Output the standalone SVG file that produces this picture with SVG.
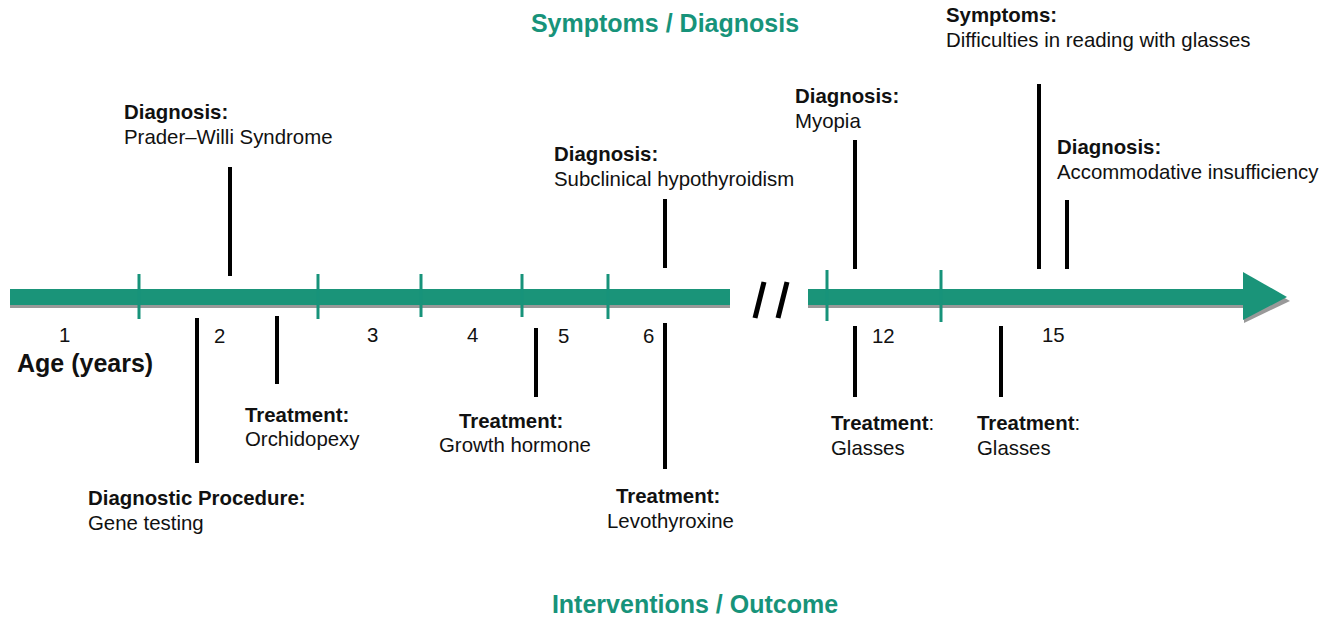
<svg xmlns="http://www.w3.org/2000/svg" width="1331" height="620" viewBox="0 0 1331 620">
<style>
.t{font-family:"Liberation Sans",Arial,sans-serif;font-size:20.4px;fill:#111}
.b{font-weight:bold}
.h{font-family:"Liberation Sans",Arial,sans-serif;font-size:25px;font-weight:bold;fill:#17937a}
.n{font-family:"Liberation Sans",Arial,sans-serif;font-size:20.4px;fill:#111}
.tick{stroke:#17937a;stroke-width:3}
.stem{stroke:#000;stroke-width:4}
</style>
<rect width="1331" height="620" fill="#fff"/>
<g id="timeline">
<rect x="10" y="292" width="720" height="16" fill="#999"/>
<rect x="808" y="292" width="440" height="16" fill="#999"/>
<polygon points="1244,275 1290,301 1244,323" fill="#999"/>
<rect x="10" y="289" width="720" height="16" fill="#1a9479"/>
<rect x="808" y="289" width="440" height="16" fill="#1a9479"/>
<polygon points="1243,272 1287,297 1243,320" fill="#1a9479"/>
<line class="tick" x1="139" y1="274" x2="139" y2="319"/>
<line class="tick" x1="318" y1="274" x2="318" y2="319"/>
<line class="tick" x1="421" y1="274" x2="421" y2="317"/>
<line class="tick" x1="522" y1="274" x2="522" y2="317"/>
<line class="tick" x1="608" y1="274" x2="608" y2="319"/>
<line class="tick" x1="827" y1="270" x2="827" y2="321"/>
<line class="tick" x1="941" y1="270" x2="941" y2="322"/>
<line x1="764" y1="282" x2="755" y2="318" stroke="#000" stroke-width="5"/>
<line x1="787" y1="282" x2="778" y2="318" stroke="#000" stroke-width="5"/>
</g>
<g id="labels-axis">
<text class="n" x="59" y="342">1</text>
<text class="n" x="214" y="343">2</text>
<text class="n" x="367" y="342">3</text>
<text class="n" x="467" y="342">4</text>
<text class="n" x="558" y="343">5</text>
<text class="n" x="643" y="343">6</text>
<text class="n" x="872" y="343">12</text>
<text class="n" x="1042" y="342">15</text>
<text class="t b" x="17" y="372" style="font-size:25px">Age (years)</text>
</g>
<g id="headers">
<text class="h" x="665" y="32" text-anchor="middle">Symptoms / Diagnosis</text>
<text class="h" x="695" y="613" text-anchor="middle">Interventions / Outcome</text>
</g>
<g id="connectors">
<line class="stem" x1="230" y1="167" x2="230" y2="276"/>
<line class="stem" x1="197" y1="318" x2="197" y2="463"/>
<line class="stem" x1="277" y1="316" x2="277" y2="384"/>
<line class="stem" x1="536" y1="328" x2="536" y2="397"/>
<line class="stem" x1="665" y1="199" x2="665" y2="268"/>
<line class="stem" x1="665" y1="323" x2="665" y2="469"/>
<line class="stem" x1="855" y1="140" x2="855" y2="269"/>
<line class="stem" x1="855" y1="326" x2="855" y2="397"/>
<line class="stem" x1="1039" y1="84" x2="1039" y2="269"/>
<line class="stem" x1="1067" y1="200" x2="1067" y2="269"/>
<line class="stem" x1="1001" y1="326" x2="1001" y2="397"/>
</g>
<g id="dx-pws">
<text class="t b" x="124" y="119">Diagnosis:</text>
<text class="t" x="124" y="144">Prader–Willi Syndrome</text>
</g>
<g id="dx-hypo">
<text class="t b" x="554" y="161">Diagnosis:</text>
<text class="t" x="554" y="186">Subclinical hypothyroidism</text>
</g>
<g id="dx-myopia">
<text class="t b" x="795" y="103">Diagnosis:</text>
<text class="t" x="795" y="128">Myopia</text>
</g>
<g id="sx-reading">
<text class="t b" x="946" y="22">Symptoms:</text>
<text class="t" x="946" y="47">Difficulties in reading with glasses</text>
</g>
<g id="dx-accom">
<text class="t b" x="1057" y="154">Diagnosis:</text>
<text class="t" x="1057" y="179">Accommodative insufficiency</text>
</g>
<g id="tx-orchid">
<text class="t b" x="245" y="422">Treatment:</text>
<text class="t" x="245" y="446">Orchidopexy</text>
</g>
<g id="proc-gene">
<text class="t b" x="88" y="505">Diagnostic Procedure:</text>
<text class="t" x="88" y="530">Gene testing</text>
</g>
<g id="tx-gh">
<text class="t b" x="459" y="428">Treatment:</text>
<text class="t" x="439" y="452">Growth hormone</text>
</g>
<g id="tx-levo">
<text class="t b" x="616" y="503">Treatment:</text>
<text class="t" x="607" y="528">Levothyroxine</text>
</g>
<g id="tx-glasses12">
<text class="t" x="831" y="430"><tspan class="b">Treatment</tspan>:</text>
<text class="t" x="831" y="455">Glasses</text>
</g>
<g id="tx-glasses15">
<text class="t" x="977" y="430"><tspan class="b">Treatment</tspan>:</text>
<text class="t" x="977" y="455">Glasses</text>
</g>
</svg>
